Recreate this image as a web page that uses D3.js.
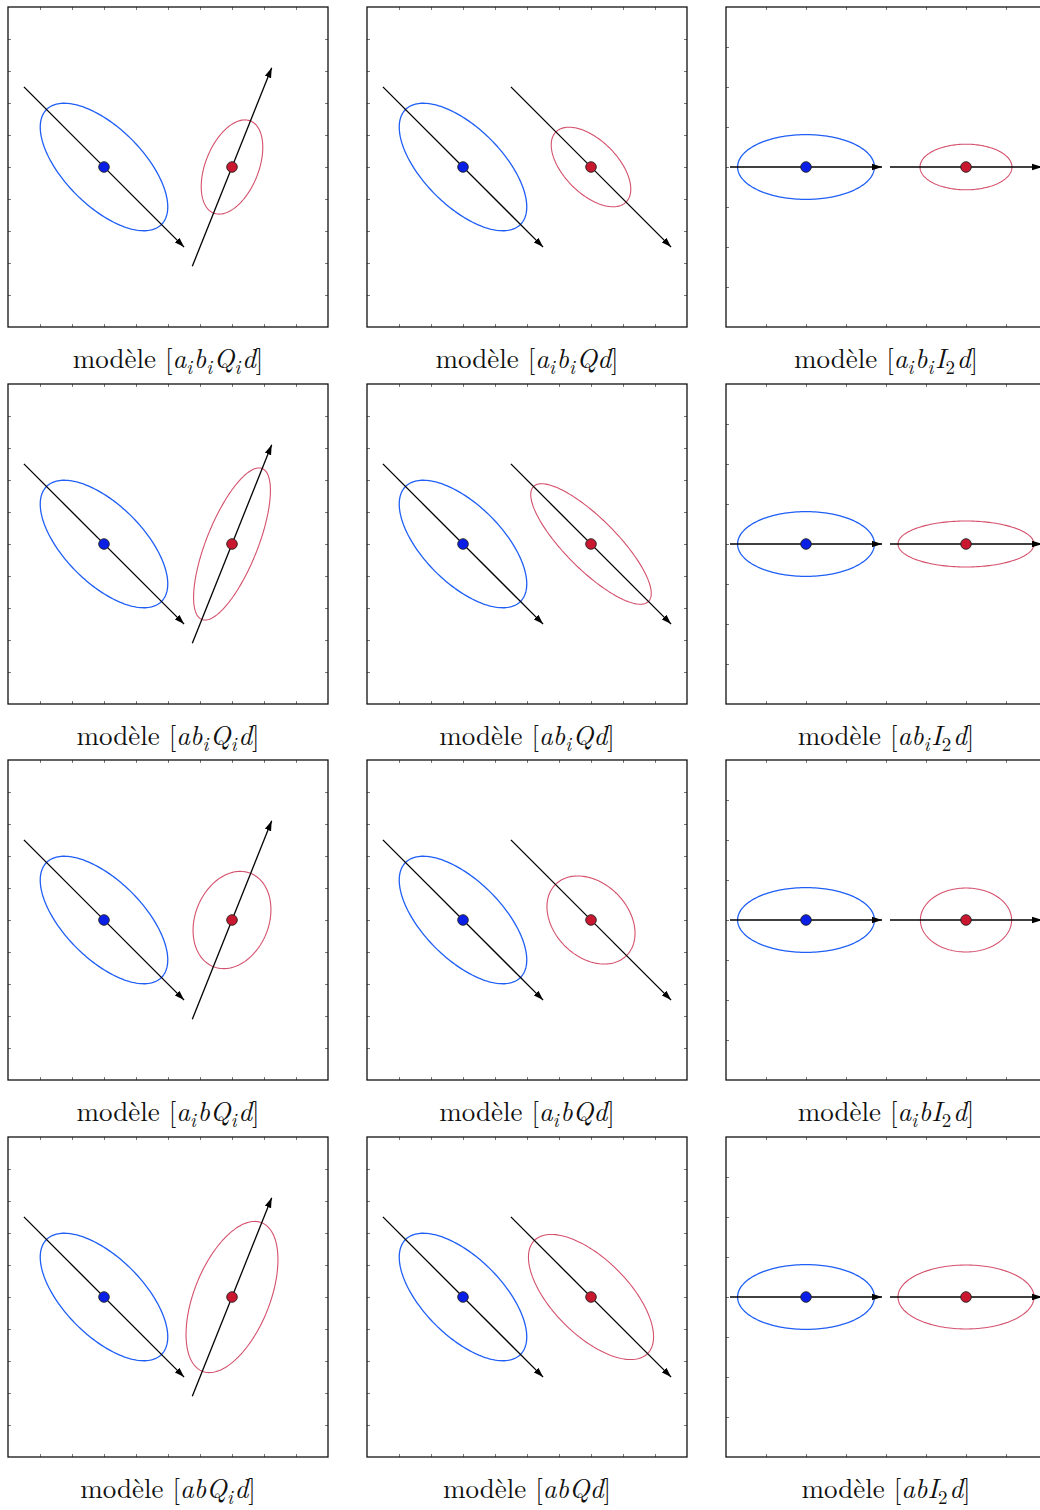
<!DOCTYPE html>
<html>
<head>
<meta charset="utf-8">
<script src="https://cdn.jsdelivr.net/npm/d3@7"></script>
<style>
 body { margin: 0; background: #fff; }
 svg { display: block; }
</style>
</head>
<body>
<div id="chart"></div>
<script>
// model names: rows give (a, b), columns give the orientation
const rowModels = [["a_i", "b_i"], ["a", "b_i"], ["a_i", "b"], ["a", "b"]];
const colModels = ["Q_i", "Q", "I_2"];

// panels of columns 1 and 2 use a 0..10 domain, column 3 uses 0..8
const colDomain = [10, 10, 8];
const blueCenter = [[3, 5], [3, 5], [2, 4]];
const redCenter = [[7, 5], [7, 5], [6, 4]];
// orientation of the main axis (degrees) for blue / red class
const blueAngle = [-45, -45, 0];
const redAngle = [68.2, -45, 0];
// half length of the arrows
const blueArrow = [3.54, 3.54, 1.9];
const redArrow = [3.34, 3.54, 1.9];
// semi axes (a, b) of the blue class, per column
const blueAxes = [[2.54, 1.22], [2.54, 1.22], [1.71, 0.81]];
// semi axes (a, b) of the red class, per row, for columns 1-2 and column 3
const redAxes = [[1.55, 0.83], [2.54, 0.8], [1.57, 1.15], [2.5, 1.18]];
const redAxesIso = [[1.15, 0.57], [1.7, 0.575], [1.14, 0.8], [1.7, 0.8]];

const W = 1040, H = 1510;
const panelSize = 320;
const colX = [8, 367, 726];
const rowY = [7, 384, 760, 1137];

const svg = d3.select("#chart").append("svg")
 .attr("width", W)
 .attr("height", H);

const defs = svg.append("defs");
defs.append("marker")
 .attr("id", "head")
 .attr("markerUnits", "userSpaceOnUse")
 .attr("viewBox", "0 -4 10 8")
 .attr("refX", 10).attr("refY", 0)
 .attr("markerWidth", 10).attr("markerHeight", 8)
 .attr("orient", "auto")
 .append("path")
 .attr("d", "M0,-3.3L10,0L0,3.3Z")
 .attr("fill", "#000");

function ellipsePoints(c, ax, angleDeg) {
 const t = angleDeg * Math.PI / 180;
 return d3.range(0, 181).map(function (k) {
   const p = k / 180 * 2 * Math.PI;
   return [
     c[0] + ax[0] * Math.cos(p) * Math.cos(t) - ax[1] * Math.sin(p) * Math.sin(t),
     c[1] + ax[0] * Math.cos(p) * Math.sin(t) + ax[1] * Math.sin(p) * Math.cos(t)
   ];
 });
}

function addLabel(g, parts) {
 const text = g.append("text")
   .attr("x", panelSize / 2)
   .attr("y", panelSize + 41)
   .attr("text-anchor", "middle")
   .style("font-family", "'Latin Modern Roman', 'DejaVu Serif', serif")
   .style("font-size", "27px")
   .attr("fill", "#111");
 text.append("tspan").text("modèle [");
 parts.forEach(function (p) {
   const [base, sub] = p.split("_");
   text.append("tspan").style("font-style", "italic").text(base);
   if (sub) {
     text.append("tspan")
       .attr("dy", 6)
       .style("font-size", "19px")
       .style("font-style", sub === "2" ? "normal" : "italic")
       .text(sub);
     text.append("tspan").attr("dy", -6).text("\u200a");
   }
 });
 text.append("tspan").style("font-style", "italic").text("d");
 text.append("tspan").text("]");
}

rowModels.forEach(function (rm, r) {
 colModels.forEach(function (cm, c) {
   const g = svg.append("g")
     .attr("transform", `translate(${colX[c]}, ${rowY[r]})`);

   const x = d3.scaleLinear().domain([0, colDomain[c]]).range([0, panelSize]);
   const y = d3.scaleLinear().domain([0, colDomain[c]]).range([panelSize, 0]);
   const tickVals = d3.range(1, colDomain[c]);

   // small inner ticks on the four sides
   const tickStyle = function (sel) {
     sel.select(".domain").remove();
     sel.selectAll("line").attr("stroke", "#555").attr("stroke-width", 0.8);
   };
   g.append("g").attr("transform", `translate(0,${panelSize})`)
     .call(d3.axisBottom(x).tickValues(tickVals).tickSize(-3).tickFormat(""))
     .call(tickStyle);
   g.append("g")
     .call(d3.axisTop(x).tickValues(tickVals).tickSize(-3).tickFormat(""))
     .call(tickStyle);
   g.append("g")
     .call(d3.axisLeft(y).tickValues(tickVals).tickSize(-3).tickFormat(""))
     .call(tickStyle);
   g.append("g").attr("transform", `translate(${panelSize},0)`)
     .call(d3.axisRight(y).tickValues(tickVals).tickSize(-3).tickFormat(""))
     .call(tickStyle);

   const line = d3.line()
     .x(function (d) { return x(d[0]); })
     .y(function (d) { return y(d[1]); });

   const redAx = c === 2 ? redAxesIso[r] : redAxes[r];
   const classes = [
     { center: blueCenter[c], axes: blueAxes[c], angle: blueAngle[c], half: blueArrow[c],
       stroke: "#1f5ff5", fill: "#0a1ee6", sw: 1.3 },
     { center: redCenter[c], axes: redAx, angle: redAngle[c], half: redArrow[c],
       stroke: "#d4506c", fill: "#c8172e", sw: 1.1 }
   ];

   classes.forEach(function (k) {
     g.append("path")
       .datum(ellipsePoints(k.center, k.axes, k.angle))
       .attr("d", line)
       .attr("fill", "none")
       .attr("stroke", k.stroke)
       .attr("stroke-width", k.sw);

     const t = k.angle * Math.PI / 180;
     const ends = [
       [k.center[0] - k.half * Math.cos(t), k.center[1] - k.half * Math.sin(t)],
       [k.center[0] + k.half * Math.cos(t), k.center[1] + k.half * Math.sin(t)]
     ];
     g.append("path")
       .datum(ends)
       .attr("d", line)
       .attr("stroke", "#000")
       .attr("stroke-width", 1.3)
       .attr("fill", "none")
       .attr("marker-end", "url(#head)");

     g.append("circle")
       .attr("cx", x(k.center[0]))
       .attr("cy", y(k.center[1]))
       .attr("r", 5.3)
       .attr("fill", k.fill)
       .attr("stroke", "#222")
       .attr("stroke-width", 0.9);
   });

   g.append("rect")
     .attr("width", panelSize)
     .attr("height", panelSize)
     .attr("fill", "none")
     .attr("stroke", "#111")
     .attr("stroke-width", 1.3);

   addLabel(g, [rm[0], rm[1], cm]);
 });
});
</script>
</body>
</html>
